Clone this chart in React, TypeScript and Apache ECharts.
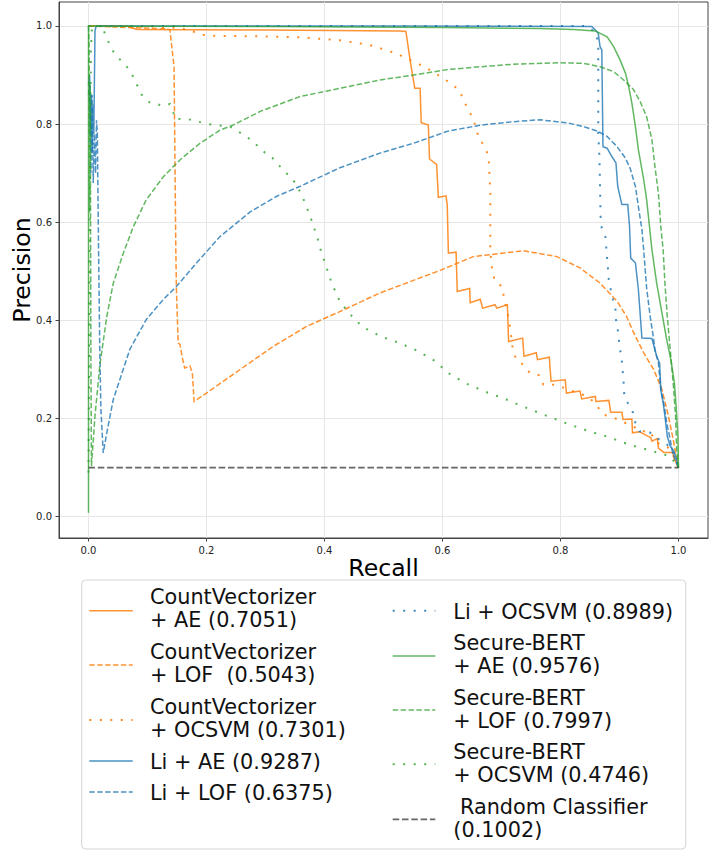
import React, { useEffect, useRef } from "react";
import * as echarts from "echarts";

// ---------- data (recall, precision) ----------
const xTicks = [0, 0.2, 0.4, 0.6, 0.8, 1.0];
const yTicks = [0, 0.2, 0.4, 0.6, 0.8, 1.0];

const cvAE: number[][] = [
  [0, 1.0], [0.065, 1.0], [0.082, 0.993], [0.3, 0.992], [0.528, 0.99], [0.538, 0.989],
  [0.545, 0.931], [0.553, 0.873], [0.562, 0.873], [0.564, 0.803], [0.576, 0.798],
  [0.578, 0.729], [0.59, 0.718], [0.593, 0.651], [0.606, 0.654], [0.608, 0.636],
  [0.61, 0.537], [0.623, 0.539], [0.625, 0.459], [0.646, 0.465], [0.647, 0.436],
  [0.664, 0.443], [0.668, 0.425], [0.689, 0.432], [0.692, 0.425], [0.71, 0.432],
  [0.712, 0.357], [0.736, 0.364], [0.738, 0.327], [0.759, 0.334], [0.761, 0.32],
  [0.781, 0.325], [0.784, 0.276], [0.808, 0.279], [0.81, 0.252], [0.833, 0.256],
  [0.836, 0.24], [0.859, 0.245], [0.86, 0.235], [0.882, 0.237], [0.885, 0.213],
  [0.904, 0.213], [0.906, 0.198], [0.921, 0.199], [0.922, 0.171], [0.934, 0.173],
  [0.953, 0.161], [0.955, 0.154], [0.964, 0.159], [0.966, 0.14], [0.975, 0.131],
  [0.991, 0.131], [0.992, 0.12], [1.0, 0.1],
];

const cvLOF: number[][] = [
  [0, 1.0], [0.087, 0.996], [0.134, 0.994], [0.138, 0.992], [0.145, 0.917],
  [0.148, 0.544], [0.149, 0.463], [0.152, 0.354], [0.155, 0.351], [0.159, 0.324],
  [0.163, 0.303], [0.172, 0.307], [0.176, 0.293], [0.179, 0.235], [0.2, 0.252],
  [0.257, 0.3], [0.313, 0.347], [0.37, 0.388], [0.426, 0.418], [0.494, 0.456],
  [0.596, 0.502], [0.652, 0.53], [0.737, 0.542], [0.794, 0.53], [0.833, 0.507],
  [0.867, 0.476], [0.896, 0.439], [0.912, 0.408], [0.924, 0.375], [0.941, 0.334],
  [0.958, 0.3], [0.972, 0.259], [0.983, 0.205], [0.992, 0.151], [1.0, 0.1],
];

const cvOCSVM: number[][] = [
  [0, 1.0], [0.104, 0.999], [0.155, 0.996], [0.175, 0.99], [0.19, 0.982], [0.214, 0.98],
  [0.291, 0.979], [0.358, 0.977], [0.426, 0.971], [0.477, 0.961], [0.52, 0.945],
  [0.557, 0.924], [0.573, 0.914], [0.601, 0.894], [0.628, 0.87], [0.643, 0.83],
  [0.652, 0.812], [0.662, 0.77], [0.672, 0.754], [0.678, 0.734], [0.679, 0.714],
  [0.681, 0.659], [0.681, 0.591], [0.681, 0.544], [0.684, 0.502], [0.689, 0.48],
  [0.701, 0.469], [0.704, 0.448], [0.712, 0.405], [0.715, 0.383], [0.719, 0.342],
  [0.725, 0.32], [0.738, 0.309], [0.748, 0.293], [0.765, 0.288], [0.771, 0.269],
  [0.791, 0.269], [0.839, 0.248], [0.856, 0.235], [0.873, 0.208], [0.89, 0.202],
  [0.906, 0.193], [0.924, 0.184], [0.935, 0.174], [0.951, 0.174], [0.963, 0.151],
  [0.98, 0.144], [0.989, 0.131], [1.0, 0.1],
];

const liAE: number[][] = [
  [0, 0.88], [0.002, 0.9], [0.003, 0.78], [0.005, 0.86], [0.006, 0.74], [0.008, 0.84],
  [0.009, 0.78], [0.011, 0.99], [0.013, 1.0], [0.5, 1.0], [0.853, 0.999], [0.859, 0.992],
  [0.864, 0.985], [0.867, 0.958], [0.87, 0.951], [0.872, 0.754], [0.879, 0.751],
  [0.887, 0.734], [0.894, 0.721], [0.897, 0.673], [0.904, 0.636], [0.914, 0.636],
  [0.917, 0.592], [0.919, 0.527], [0.927, 0.517], [0.932, 0.463], [0.938, 0.364],
  [0.955, 0.363], [0.963, 0.327], [0.968, 0.313], [0.97, 0.259], [0.974, 0.232],
  [0.977, 0.205], [0.981, 0.164], [0.986, 0.144], [0.992, 0.134], [0.996, 0.12], [1.0, 0.1],
];

const liLOF: number[][] = [
  [0, 0.86], [0.002, 0.88], [0.004, 0.7], [0.006, 0.86], [0.008, 0.68], [0.01, 0.78],
  [0.012, 0.7], [0.0136, 0.808], [0.015, 0.78], [0.017, 0.55], [0.019, 0.35],
  [0.021, 0.22], [0.025, 0.13], [0.031, 0.171], [0.042, 0.239], [0.07, 0.341],
  [0.098, 0.402], [0.127, 0.443], [0.149, 0.469], [0.183, 0.517], [0.223, 0.571],
  [0.274, 0.621], [0.319, 0.653], [0.358, 0.673], [0.426, 0.711], [0.494, 0.741],
  [0.551, 0.761], [0.607, 0.785], [0.664, 0.798], [0.72, 0.805], [0.765, 0.809],
  [0.799, 0.804], [0.811, 0.803], [0.839, 0.795], [0.864, 0.785], [0.879, 0.775],
  [0.896, 0.754], [0.91, 0.731], [0.918, 0.71], [0.927, 0.673], [0.932, 0.632],
  [0.938, 0.585], [0.941, 0.544], [0.944, 0.497], [0.946, 0.466], [0.952, 0.408],
  [0.958, 0.361], [0.96, 0.34], [0.966, 0.313], [0.97, 0.259], [0.976, 0.225],
  [0.98, 0.191], [0.986, 0.157], [0.99, 0.13], [1.0, 0.1],
];

const liOCSVM: number[][] = [
  [0, 1.0], [0.845, 1.0], [0.86, 0.986], [0.864, 0.965], [0.864, 0.917], [0.864, 0.849],
  [0.864, 0.782], [0.866, 0.731], [0.867, 0.673], [0.868, 0.612], [0.87, 0.588],
  [0.876, 0.571], [0.879, 0.527], [0.882, 0.48], [0.889, 0.442], [0.893, 0.425],
  [0.894, 0.402], [0.897, 0.381], [0.901, 0.341], [0.904, 0.317], [0.907, 0.273],
  [0.908, 0.249], [0.914, 0.232], [0.923, 0.212], [0.927, 0.191], [0.934, 0.174],
  [0.951, 0.172], [0.962, 0.161], [0.977, 0.151], [0.989, 0.137], [0.995, 0.117], [1.0, 0.1],
];

const sbAE: number[][] = [
  [0, 0.008], [0, 1.0], [0.3, 0.999], [0.6, 0.997], [0.765, 0.995], [0.822, 0.993],
  [0.859, 0.99], [0.879, 0.978], [0.89, 0.958], [0.901, 0.931], [0.91, 0.904],
  [0.915, 0.88], [0.921, 0.843], [0.927, 0.795], [0.932, 0.748], [0.941, 0.687],
  [0.946, 0.646], [0.955, 0.544], [0.963, 0.476], [0.972, 0.415], [0.98, 0.361],
  [0.987, 0.32], [0.993, 0.273], [0.996, 0.225], [0.999, 0.164], [1.0, 0.1],
];

const sbLOF: number[][] = [
  [0, 1.0], [0.001, 0.96], [0.002, 0.62], [0.003, 0.88], [0.004, 0.35], [0.005, 0.103],
  [0.011, 0.205], [0.019, 0.307], [0.031, 0.408], [0.042, 0.476], [0.059, 0.537],
  [0.076, 0.591], [0.098, 0.646], [0.127, 0.693], [0.155, 0.727], [0.189, 0.761],
  [0.223, 0.788], [0.245, 0.798], [0.291, 0.826], [0.358, 0.856], [0.494, 0.89],
  [0.551, 0.9], [0.607, 0.911], [0.664, 0.917], [0.72, 0.922], [0.799, 0.925],
  [0.839, 0.924], [0.867, 0.917], [0.89, 0.907], [0.907, 0.89], [0.924, 0.87],
  [0.935, 0.846], [0.946, 0.815], [0.955, 0.768], [0.96, 0.714], [0.966, 0.659],
  [0.97, 0.591], [0.974, 0.544], [0.977, 0.476], [0.981, 0.408], [0.986, 0.34],
  [0.991, 0.273], [0.995, 0.205], [0.997, 0.137], [1.0, 0.1],
];

const sbOCSVM: number[][] = [
  [0, 0.09], [0.002, 0.55], [0.004, 0.95], [0.006, 1.0], [0.022, 1.0], [0.026, 0.99],
  [0.032, 0.973], [0.037, 0.959], [0.043, 0.946], [0.05, 0.936], [0.058, 0.926],
  [0.065, 0.917], [0.072, 0.905], [0.079, 0.889], [0.084, 0.875], [0.09, 0.86],
  [0.098, 0.849], [0.107, 0.842], [0.116, 0.841], [0.127, 0.837], [0.138, 0.841],
  [0.143, 0.829], [0.146, 0.811], [0.169, 0.81], [0.203, 0.8], [0.24, 0.795],
  [0.254, 0.785], [0.265, 0.776], [0.276, 0.768], [0.288, 0.754], [0.299, 0.742],
  [0.31, 0.734], [0.322, 0.717], [0.333, 0.703], [0.344, 0.69], [0.353, 0.676],
  [0.367, 0.64], [0.379, 0.601], [0.389, 0.564], [0.395, 0.537], [0.401, 0.517],
  [0.406, 0.498], [0.412, 0.477], [0.419, 0.457], [0.426, 0.439], [0.435, 0.425],
  [0.444, 0.412], [0.455, 0.398], [0.467, 0.385], [0.481, 0.377], [0.494, 0.368],
  [0.527, 0.354], [0.558, 0.338], [0.586, 0.318], [0.611, 0.292], [0.641, 0.271],
  [0.672, 0.255], [0.704, 0.241], [0.736, 0.225], [0.767, 0.21], [0.815, 0.188],
  [0.849, 0.174], [0.882, 0.162], [0.916, 0.147], [0.952, 0.135], [0.986, 0.123],
  [1.0, 0.1],
];

const randomClf: number[][] = [[0, 0.1002], [1, 0.1002]];

const seriesLabels: string[][] = [
  ["CountVectorizer", "+ AE (0.7051)"],
  ["CountVectorizer", "+ LOF  (0.5043)"],
  ["CountVectorizer", "+ OCSVM (0.7301)"],
  ["Li + AE (0.9287)"],
  ["Li + LOF (0.6375)"],
  ["Li + OCSVM (0.8989)"],
  ["Secure-BERT", "+ AE (0.9576)"],
  ["Secure-BERT", "+ LOF (0.7997)"],
  ["Secure-BERT", "+ OCSVM (0.4746)"],
  [" Random Classifier", "(0.1002)"],
];

const seriesData = [cvAE, cvLOF, cvOCSVM, liAE, liLOF, liOCSVM, sbAE, sbLOF, sbOCSVM, randomClf];

// ---------- styles ----------
const ORANGE = "#ff7f0e";
const BLUE = "#1f77b4";
const GREEN = "#2ca02c";
const GRAY = "#333333";
const SOLID: number[] | null = null;
const DASHED = [5.5, 2.4];
const DOTTED = [2, 8.5];
const RANDOM_DASH = [6.5, 2.8];

const seriesStyles = [
  { color: ORANGE, dash: SOLID, width: 1.5, opacity: 0.85 },
  { color: ORANGE, dash: DASHED, width: 1.5, opacity: 0.85 },
  { color: ORANGE, dash: DOTTED, width: 2, opacity: 0.9 },
  { color: BLUE, dash: SOLID, width: 1.5, opacity: 0.8 },
  { color: BLUE, dash: DASHED, width: 1.5, opacity: 0.8 },
  { color: BLUE, dash: DOTTED, width: 2, opacity: 0.85 },
  { color: GREEN, dash: SOLID, width: 1.5, opacity: 0.75 },
  { color: GREEN, dash: DASHED, width: 1.5, opacity: 0.75 },
  { color: GREEN, dash: DOTTED, width: 2, opacity: 0.8 },
  { color: GRAY, dash: RANDOM_DASH, width: 1.8, opacity: 0.75 },
];

// legend layout: column, handle y, text line centre y's
const legendLayout = [
  { col: 0, hy: 610.7, ty: [597, 620] },
  { col: 0, hy: 665, ty: [652, 675] },
  { col: 0, hy: 720, ty: [707, 730] },
  { col: 0, hy: 761, ty: [762] },
  { col: 0, hy: 792, ty: [792.7] },
  { col: 1, hy: 610.7, ty: [612] },
  { col: 1, hy: 656, ty: [642.7, 665.7] },
  { col: 1, hy: 710, ty: [697.7, 720.7] },
  { col: 1, hy: 764.3, ty: [752, 775] },
  { col: 1, hy: 819.3, ty: [807, 830] },
];
const legendCols = [
  { hx1: 89.3, hx2: 132.7, tx: 150 },
  { hx1: 392.7, hx2: 435.3, tx: 453.3 },
];

const FONT = "DejaVu Sans";

function buildOption() {
  const series = seriesData.map((data, i) => {
    const s = seriesStyles[i];
    return {
      type: "line",
      name: seriesLabels[i].join(" "),
      data,
      showSymbol: false,
      symbol: "none",
      silent: true,
      clip: true,
      lineStyle: {
        color: s.color,
        width: s.width,
        type: s.dash ? s.dash : "solid",
        opacity: s.opacity,
        cap: "butt",
        join: "miter",
      },
      itemStyle: { color: s.color },
    };
  });

  const graphics: any[] = [
    {
      type: "rect",
      shape: { x: 81.7, y: 580, width: 604, height: 269, r: 4 },
      style: { fill: "rgba(255,255,255,0.8)", stroke: "#d4d4d4", lineWidth: 1 },
      z: 10,
    },
  ];
  legendLayout.forEach((l, i) => {
    const c = legendCols[l.col];
    const s = seriesStyles[i];
    graphics.push({
      type: "line",
      shape: { x1: c.hx1, y1: l.hy, x2: c.hx2, y2: l.hy },
      style: {
        stroke: s.color,
        lineWidth: s.width,
        lineDash: s.dash ? s.dash : null,
        opacity: s.opacity,
      },
      z: 11,
    });
    seriesLabels[i].forEach((txt, j) => {
      graphics.push({
        type: "text",
        x: c.tx,
        y: l.ty[j],
        style: {
          text: txt,
          fill: "#111",
          fontSize: 20.8,
          fontFamily: FONT,
          align: "left",
          verticalAlign: "middle",
        },
        z: 11,
      });
    });
  });

  return {
    animation: false,
    backgroundColor: "#ffffff",
    grid: {
      left: 59,
      top: 2,
      width: 649,
      height: 536,
      show: true,
      borderColor: "#444",
      borderWidth: 1,
      backgroundColor: "transparent",
      containLabel: false,
      outerBoundsMode: "none",
    },
    xAxis: {
      type: "value",
      min: -0.05,
      max: 1.05,
      name: "Recall",
      nameLocation: "middle",
      nameGap: 30,
      nameMoveOverlap: false,
      nameTextStyle: { fontSize: 23.6, fontFamily: FONT, color: "#000", verticalAlign: "middle" },
      axisLine: { show: true, onZero: false, lineStyle: { color: "#444", width: 1 } },
      axisTick: { show: true, length: 3.5, lineStyle: { color: "#444", width: 1 }, customValues: xTicks },
      axisLabel: {
        customValues: xTicks,
        formatter: (v: number) => v.toFixed(1),
        fontSize: 10,
        fontFamily: FONT,
        color: "#222",
        margin: 7,
      },
      splitLine: { show: true, lineStyle: { color: "#e6e6e6", width: 1 } },
    },
    yAxis: {
      type: "value",
      min: -0.0434,
      max: 1.0489,
      name: "Precision",
      nameLocation: "middle",
      nameGap: 37,
      nameMoveOverlap: false,
      nameTextStyle: { fontSize: 23.6, fontFamily: FONT, color: "#000", verticalAlign: "middle" },
      axisLine: { show: true, onZero: false, lineStyle: { color: "#444", width: 1 } },
      axisTick: { show: true, length: 3.5, lineStyle: { color: "#444", width: 1 }, customValues: yTicks },
      axisLabel: {
        customValues: yTicks,
        formatter: (v: number) => v.toFixed(1),
        fontSize: 10,
        fontFamily: FONT,
        color: "#222",
        margin: 7,
      },
      splitLine: { show: true, lineStyle: { color: "#e6e6e6", width: 1 } },
    },
    series,
    graphic: graphics,
  };
}

export default function App() {
  const ref = useRef<HTMLDivElement>(null);
  useEffect(() => {
    if (!ref.current) return;
    const chart = echarts.init(ref.current, null, { renderer: "svg" });
    chart.setOption(buildOption() as any);
    return () => {
      chart.dispose();
    };
  }, []);
  return (
    <div
      ref={ref}
      style={{ position: "fixed", left: 0, top: 0, width: 709, height: 853, background: "#fff" }}
    />
  );
}
